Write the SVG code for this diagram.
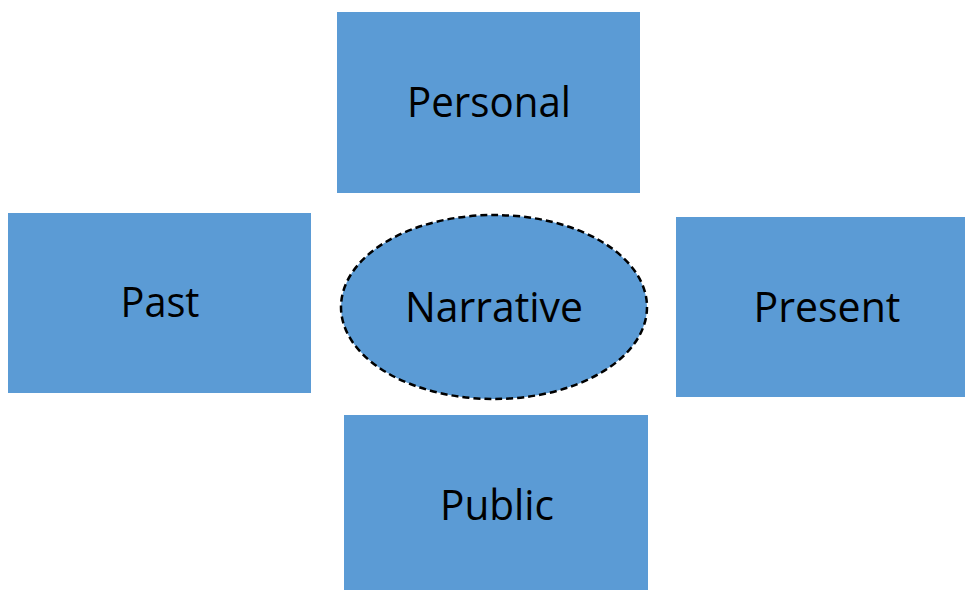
<svg xmlns="http://www.w3.org/2000/svg" width="965" height="590" viewBox="0 0 965 590">
  <style>
    .box { fill: #5B9BD5; }
    .hub { fill: #5B9BD5; stroke: #000; stroke-width: 2.5; stroke-dasharray: 7 4; }
    .lbl { font-family: "Open Sans", "Noto Sans", sans-serif; font-size: 42px; fill: #000; text-anchor: middle; }
  </style>
  <rect width="965" height="590" fill="#fff"/>
  <g id="connectors"></g>
  <g id="personal">
    <rect class="box" x="337" y="12" width="303" height="181"/>
    <text class="lbl" x="489" y="117" textLength="164" lengthAdjust="spacingAndGlyphs">Personal</text>
  </g>
  <g id="past">
    <rect class="box" x="8" y="213" width="303" height="180"/>
    <text class="lbl" x="160" y="317" textLength="79" lengthAdjust="spacingAndGlyphs">Past</text>
  </g>
  <g id="narrative">
    <ellipse class="hub" cx="494" cy="307" rx="153" ry="92"/>
    <text class="lbl" x="494" y="322" textLength="178" lengthAdjust="spacingAndGlyphs">Narrative</text>
  </g>
  <g id="present">
    <rect class="box" x="676" y="217" width="289" height="180"/>
    <text class="lbl" x="827" y="322" textLength="147" lengthAdjust="spacingAndGlyphs">Present</text>
  </g>
  <g id="public">
    <rect class="box" x="344" y="415" width="304" height="175"/>
    <text class="lbl" x="497" y="520" textLength="114" lengthAdjust="spacingAndGlyphs">Public</text>
  </g>
</svg>
